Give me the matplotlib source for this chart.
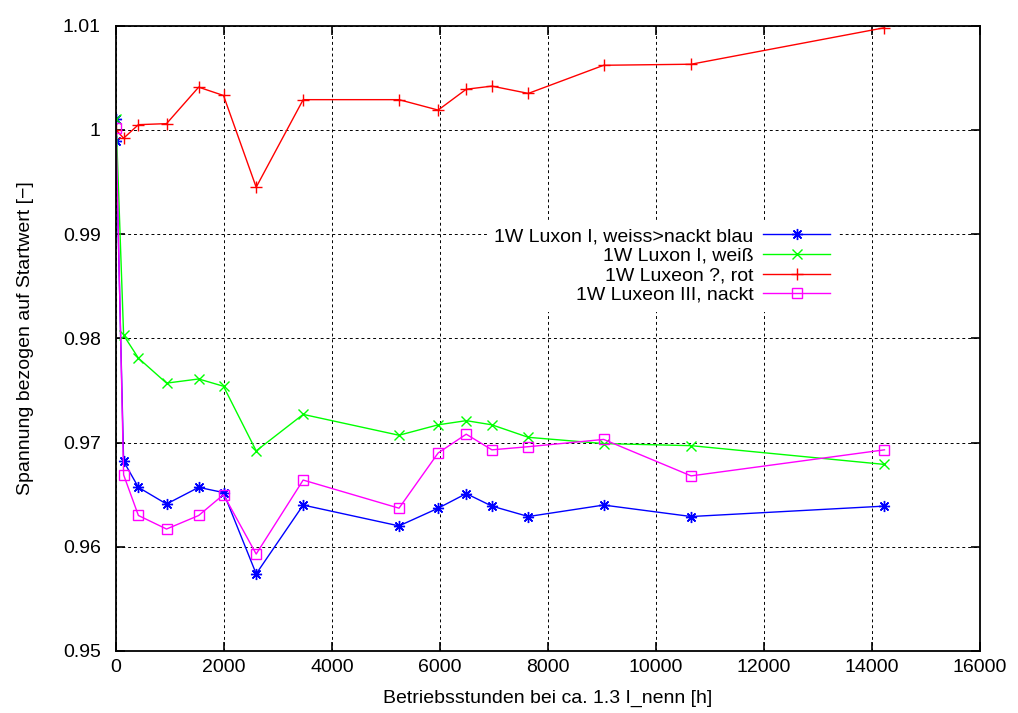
import matplotlib
matplotlib.use("Agg")
import matplotlib.pyplot as plt

plt.rcParams['font.family'] = ['Liberation Sans', 'DejaVu Sans']

# Betriebsstunden (gemeinsame Messzeitpunkte)
hours = [0, 140, 414, 935, 1530, 1990, 2595, 3465, 5240, 5965, 6485, 6960, 7635, 9030, 10650, 14230]

# blau hat zwei Werte bei 0 h
hours_blue = [0] + hours
blue = [1.0010, 0.9989, 0.9682, 0.9657, 0.9641, 0.9657, 0.9652, 0.9574, 0.9640, 0.9620,
        0.9637, 0.9651, 0.9639, 0.9629, 0.9640, 0.9629, 0.9639]
green = [1.0010, 0.9803, 0.9781, 0.9757, 0.9761, 0.9754, 0.9692, 0.9727, 0.9707, 0.9717,
         0.9721, 0.9717, 0.9705, 0.9699, 0.9697, 0.9679]
red = [1.0000, 0.9992, 1.0005, 1.0006, 1.0041, 1.0033, 0.9945, 1.0029, 1.0029, 1.0019,
       1.0039, 1.0042, 1.0035, 1.0062, 1.0063, 1.0098]
magenta = [1.0002, 0.9669, 0.9630, 0.9617, 0.9630, 0.9650, 0.9593, 0.9664, 0.9637, 0.9690,
           0.9708, 0.9693, 0.9696, 0.9703, 0.9668, 0.9693]

labels = ["1W Luxon I, weiss>nackt blau", "1W Luxon I, weiß", "1W Luxeon ?, rot", "1W Luxeon III, nackt"]

xticks = list(range(0, 16001, 2000))
yticks = [0.95, 0.96, 0.97, 0.98, 0.99, 1.00, 1.01]
ytick_labels = ["0.95", "0.96", "0.97", "0.98", "0.99", "1", "1.01"]

fs = 14

fig = plt.figure(figsize=(10.18, 7.13), dpi=100)
ax = fig.add_axes([0.114, 0.087, 0.8487, 0.877])

ax.plot(hours_blue, blue, color='#0000ff', lw=1.0, marker=(8, 2, 0), ms=8, mew=1.0, label=labels[0])
ax.plot(hours, green, color='#00ff00', lw=1.0, marker='x', ms=7, mew=1.0, label=labels[1])
ax.plot(hours, red, color='#ff0000', lw=1.0, marker='+', ms=9, mew=1.0, label=labels[2])
ax.plot(hours, magenta, color='#ff00ff', lw=1.0, marker='s', ms=7, mew=1.0, mfc='none', label=labels[3])

ax.set_xlim(0, 16000)
ax.set_ylim(0.95, 1.01)
ax.set_xticks(xticks)
ax.set_yticks(yticks)
ax.set_yticklabels(ytick_labels)
ax.tick_params(direction='in', length=6.5, width=1.2, labelsize=fs, top=True, right=True)
ax.tick_params(axis='y', pad=11)
ax.tick_params(axis='x', pad=6)
ax.grid(True, color='black', linestyle=(0, (3, 3)), linewidth=0.7)
for s in ax.spines.values():
    s.set_linewidth(1.3)

ax.set_xlabel("Betriebsstunden bei ca. 1.3 I_nenn [h]", fontsize=fs, labelpad=10)
ax.set_ylabel("Spannung bezogen auf Startwert [−]", fontsize=fs, labelpad=21)

leg = ax.legend(loc='upper right', bbox_to_anchor=(0.847, 0.705), markerfirst=False,
                fontsize=fs, handlelength=3.45, handletextpad=0.5, labelspacing=0.1,
                frameon=True, fancybox=False, borderpad=0.4)
leg.get_frame().set_facecolor('white')
leg.get_frame().set_edgecolor('none')
leg.get_frame().set_alpha(1.0)

fig.savefig("out.png", dpi=100)
